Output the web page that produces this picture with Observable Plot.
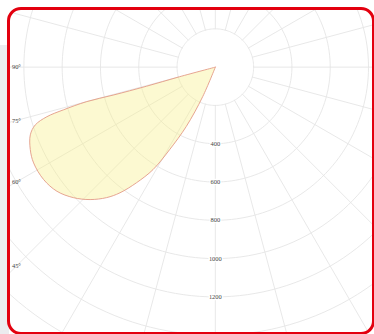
<!DOCTYPE html>
<html>
<head>
<meta charset="utf-8">
<script src="https://cdn.jsdelivr.net/npm/d3@7"></script>
<script src="https://cdn.jsdelivr.net/npm/@observablehq/plot@0.6"></script>
<style>
  html, body { margin: 0; padding: 0; background: #ffffff; }
  #page { position: relative; width: 374px; height: 334px; overflow: hidden; background: #ffffff; }
  #strip { position: absolute; left: 0; top: 45px; width: 9px; height: 289px; background: #ececef; }
  #frame { position: absolute; left: 7px; top: 7px; width: 368px; height: 328px; box-sizing: border-box;
           border: 3px solid #e3000f; border-radius: 14px; overflow: hidden; background: #ffffff; }
  #chart { position: absolute; left: -10px; top: -10px; }
</style>
</head>
<body>
<div id="page">
  <div id="strip"></div>
  <div id="frame"><div id="chart"></div></div>
</div>
<script>
// Gamma angle (degrees from nadir) and luminous intensity (cd) traced around the curve
const gammaDeg    = [0, 75.0, 74.5, 74.7, 75.0, 74.3, 73.6, 72.2, 69.9, 66.0, 62.2, 56.8, 51.9, 47.4, 43.4, 39.8, 37.2, 34.3, 31.3, 29.0, 26.1, 23.2, 0];
const intensityCd = [0, 194, 374, 553, 695, 824, 917, 988, 1029, 1058, 1073, 1072, 1051, 1007, 952, 887, 824, 731, 626, 493, 345, 168, 0];

// Grid and tick values
const ringValues  = [200, 400, 600, 800, 1000, 1200, 1400, 1600, 1800, 2000];
const radialTicks = [400, 600, 800, 1000, 1200];
const spokeAngles = d3.range(0, 360, 15);
const angleLabels = [90, 75, 60, 45];

const rad = Math.PI / 180;
const px = 0.1925;              // pixels per cd
const W = 374, H = 334, cx = 216, cy = 67;

const curve = gammaDeg.map((g, i) => ({g, v: intensityCd[i]}));
const rings = ringValues.flatMap(v => d3.range(0, 361, 2).map(a => ({v, a})));
const spokes = spokeAngles.flatMap(a => [200, 2200].map(v => ({a, v})));

const X = (v, a) => -v * Math.sin(a * rad);
const Y = (v, a) => -v * Math.cos(a * rad);
const labelX = (16 - cx) / px;

const chart = Plot.plot({
  width: W, height: H,
  margin: 0,
  x: {domain: [-cx / px, (W - cx) / px], axis: null},
  y: {domain: [-(H - cy) / px, cy / px], axis: null},
  style: {background: "transparent"},
  marks: [
    Plot.line(rings, {x: d => X(d.v, d.a), y: d => Y(d.v, d.a), z: "v", stroke: "#e5e5e5", strokeWidth: 0.9}),
    Plot.line(spokes, {x: d => X(d.v, d.a), y: d => Y(d.v, d.a), z: "a", stroke: "#e5e5e5", strokeWidth: 0.9}),
    Plot.line(curve, {x: d => X(d.v, d.g), y: d => Y(d.v, d.g), curve: "catmull-rom",
      fill: "#f8f08c", fillOpacity: 0.4, stroke: "#e39a86", strokeWidth: 0.9}),
    Plot.text(radialTicks, {x: 0, y: d => -d, text: d => String(d), fill: "#444",
      stroke: "white", strokeWidth: 2.5, fontSize: 6.5, fontFamily: "Liberation Serif"}),
    Plot.text(angleLabels, {x: labelX, y: d => labelX / Math.tan(d * rad) * (d === 90 ? 0 : 1),
      text: d => d + "°", fill: "#444", fontSize: 6.5, fontFamily: "Liberation Serif"})
  ]
});
document.getElementById("chart").appendChild(chart);
</script>
</body>
</html>
